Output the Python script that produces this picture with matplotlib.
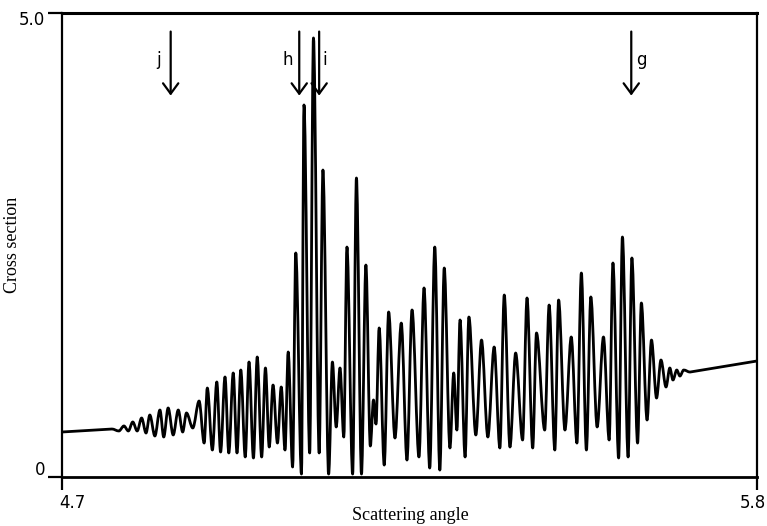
import matplotlib
matplotlib.use("Agg")
import matplotlib.pyplot as plt
from matplotlib.path import Path
from matplotlib.patches import PathPatch

# Turning points of the cross-section curve (scattering angle, cross section)
angle = [
    4.700, 4.779, 4.790, 4.798, 4.805, 4.812, 4.819, 4.826, 4.833, 4.839,
    4.847, 4.855, 4.861, 4.868, 4.876, 4.884, 4.891, 4.897, 4.907, 4.917,
    4.925, 4.930, 4.938, 4.945, 4.951, 4.958, 4.964, 4.971, 4.977, 4.983,
    4.990, 4.996, 5.003, 5.009, 5.016, 5.022, 5.028, 5.034, 5.041, 5.047,
    5.053, 5.058, 5.065, 5.070, 5.079, 5.083, 5.092, 5.098, 5.107, 5.113,
    5.122, 5.128, 5.134, 5.140, 5.146, 5.151, 5.160, 5.166, 5.174, 5.181,
    5.188, 5.193, 5.197, 5.202, 5.210, 5.217, 5.227, 5.237, 5.246, 5.254,
    5.265, 5.273, 5.282, 5.290, 5.298, 5.305, 5.314, 5.320, 5.325, 5.330,
    5.338, 5.344, 5.355, 5.364, 5.374, 5.384, 5.393, 5.400, 5.409, 5.418,
    5.429, 5.436, 5.445, 5.451, 5.464, 5.471, 5.480, 5.486, 5.496, 5.506,
    5.515, 5.522, 5.530, 5.537, 5.547, 5.557, 5.566, 5.572, 5.581, 5.587,
    5.596, 5.602, 5.611, 5.617, 5.626, 5.633, 5.641, 5.648, 5.656, 5.662,
    5.667, 5.673, 5.678, 5.684, 5.694, 5.800,
]
cross_section = [
    0.485, 0.517, 0.496, 0.550, 0.496, 0.593, 0.496, 0.636, 0.474, 0.668,
    0.442, 0.722, 0.431, 0.744, 0.453, 0.722, 0.485, 0.690, 0.528, 0.819,
    0.366, 0.959, 0.291, 1.024, 0.269, 1.078, 0.259, 1.121, 0.259, 1.153,
    0.216, 1.239, 0.205, 1.293, 0.216, 1.175, 0.323, 0.991, 0.366, 0.970,
    0.291, 1.347, 0.108, 2.414, 0.032, 4.009, 0.259, 4.731, 0.259, 3.308,
    0.032, 1.239, 0.539, 1.175, 0.431, 2.478, 0.032, 3.222, 0.032, 2.284,
    0.334, 0.830, 0.571, 1.606, 0.129, 1.778, 0.420, 1.659, 0.183, 1.800,
    0.216, 2.037, 0.097, 2.478, 0.075, 2.252, 0.313, 1.121, 0.506, 1.692,
    0.216, 1.724, 0.453, 1.476, 0.431, 1.401, 0.313, 1.961, 0.323, 1.336,
    0.399, 1.929, 0.313, 1.552, 0.506, 1.853, 0.291, 1.907, 0.506, 1.509,
    0.366, 2.198, 0.291, 1.940, 0.539, 1.509, 0.399, 2.306, 0.205, 2.586,
    0.216, 2.360, 0.366, 1.875, 0.614, 1.476, 0.851, 1.261, 0.970, 1.175,
    1.045, 1.153, 1.088, 1.153, 1.131, 1.250,
]

# Marked angles
marker_labels = ["j", "h", "i", "g"]
marker_angles = [4.872, 5.0755, 5.107, 5.601]
marker_label_angles = [4.853, 5.058, 5.116, 5.617]

x_ticks = [4.7, 5.8]
x_tick_labels = ["4.7", "5.8"]
y_ticks = [0.0, 5.0]
y_tick_labels = ["0", "5.0"]

fig = plt.figure(figsize=(7.67, 5.26), dpi=100)
ax = fig.add_axes([62 / 767, 49 / 526, 695 / 767, 464 / 526])
ax.set_xlim(4.7, 5.8)
ax.set_ylim(0, 5.0)

# Smooth curve through the turning points: horizontal tangents at each extremum,
# straight segments on the slowly varying ends.
verts = [(angle[0], cross_section[0])]
codes = [Path.MOVETO]
n = len(angle)
for k in range(1, n):
    x0, y0 = angle[k - 1], cross_section[k - 1]
    x1, y1 = angle[k], cross_section[k]
    if k == 1 or k == n - 1:
        verts.append((x1, y1))
        codes.append(Path.LINETO)
    else:
        dx = x1 - x0
        verts += [(x0 + dx / 3, y0), (x1 - dx / 3, y1), (x1, y1)]
        codes += [Path.CURVE4] * 3
curve = PathPatch(Path(verts, codes), facecolor="none", edgecolor="black",
                  lw=2.0, joinstyle="round", capstyle="round")
ax.add_patch(curve)

# Arrows marking special angles
for lab, xa, xl in zip(marker_labels, marker_angles, marker_label_angles):
    ax.annotate("", xy=(xa, 4.11), xytext=(xa, 4.80),
                arrowprops=dict(arrowstyle="->,head_length=0.75,head_width=0.55",
                                lw=1.6, color="black", mutation_scale=10,
                                shrinkA=0, shrinkB=0))
    ax.text(xl, 4.49, lab, ha="center", va="center", fontsize=12,
            family="DejaVu Sans")

# Frame
for side, w in [("top", 2.2), ("bottom", 2.0), ("left", 1.6), ("right", 1.6)]:
    ax.spines[side].set_linewidth(w)

ax.set_xticks(x_ticks)
ax.set_yticks(y_ticks)
ax.set_xticklabels([])
ax.set_yticklabels([])
ax.tick_params(axis="x", direction="out", length=9, width=1.6)
ax.tick_params(axis="y", direction="out", length=10, width=1.6)

# Tick labels
for xv, txt, dx in zip(x_ticks, x_tick_labels, [10, -4]):
    ax.annotate(txt, xy=(xv, 0), xycoords=("data", "axes fraction"),
                xytext=(dx, -26), textcoords="offset pixels",
                ha="center", va="center", fontsize=12)
for yv, txt, dy in zip(y_ticks, y_tick_labels, [7, -7]):
    ax.annotate(txt, xy=(0, yv), xycoords=("axes fraction", "data"),
                xytext=(-17, dy), textcoords="offset pixels",
                ha="right", va="center", fontsize=12)

fig.text(410 / 767, 1 - 515 / 526, "Scattering angle", ha="center", va="center",
         fontsize=13, family="Liberation Serif")
fig.text(13 / 767, 1 - 245 / 526, "Cross section", ha="center", va="center",
         rotation=90, fontsize=13, family="Liberation Serif")

fig.savefig("out.png", dpi=100)
